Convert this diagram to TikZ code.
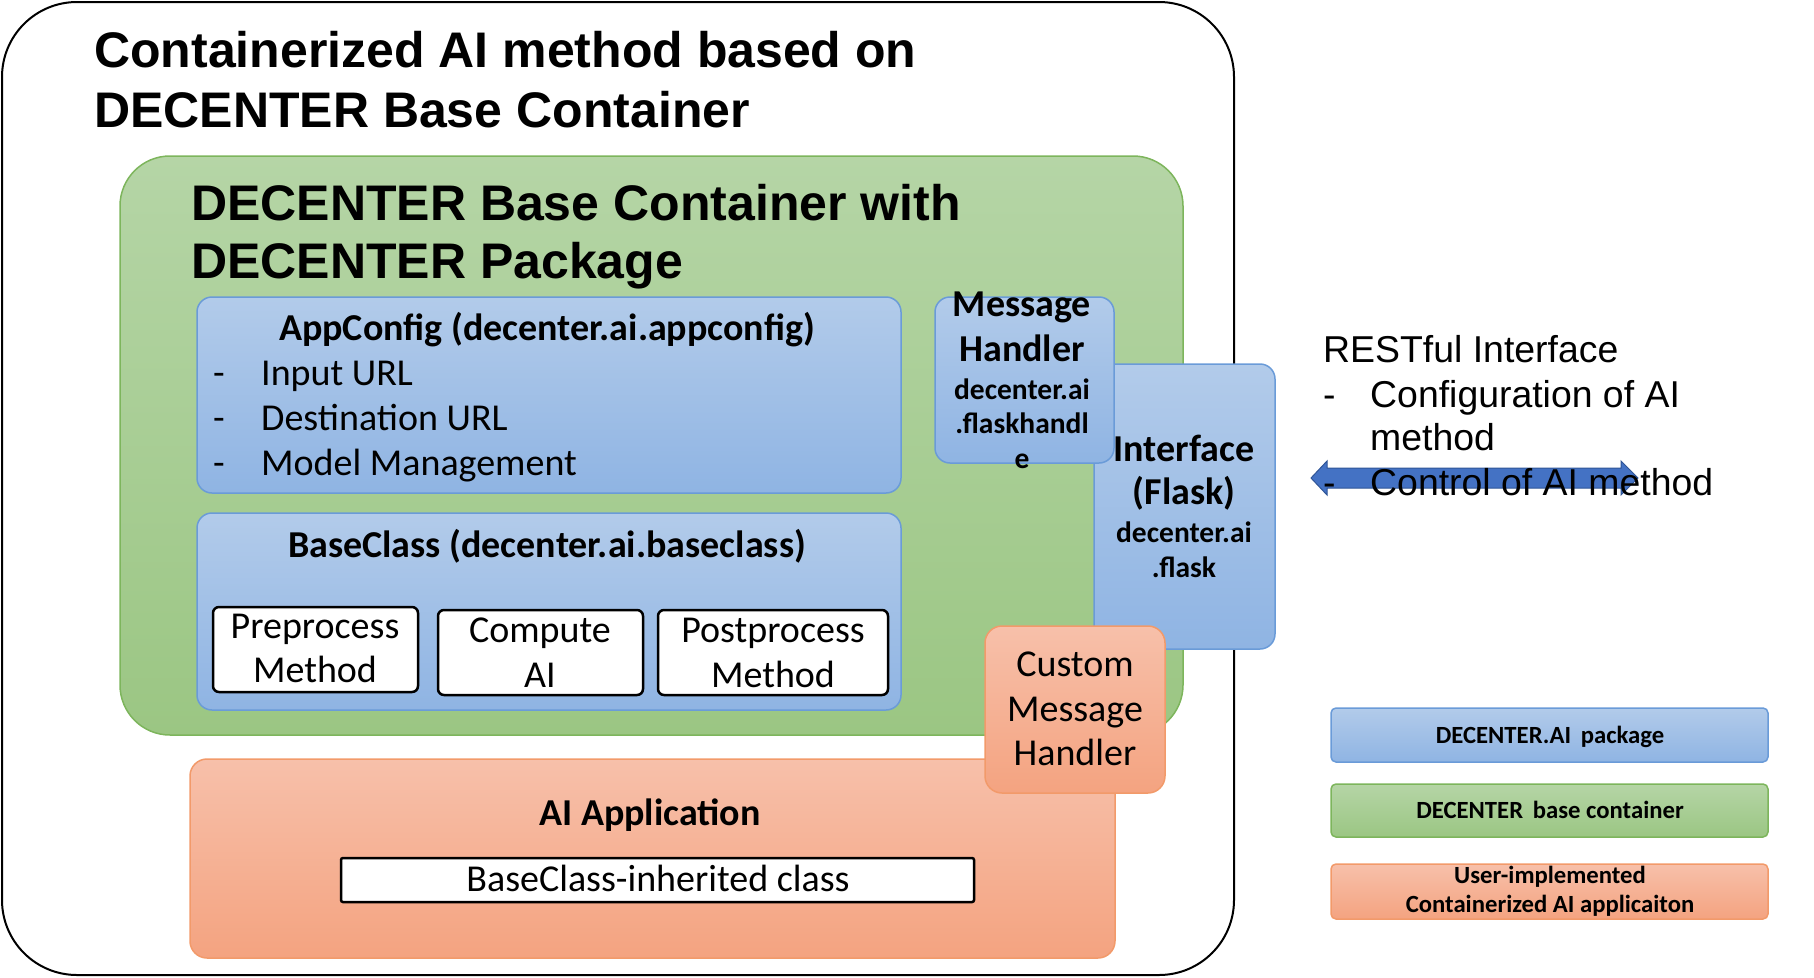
\documentclass[tikz,border=0pt]{standalone}
\usepackage{fontspec}
\setmainfont{Liberation Sans}
\newfontfamily\calib{Carlito}
\definecolor{bluetop}{HTML}{B2CBEA}
\definecolor{bluebot}{HTML}{8FB4E3}
\definecolor{blueline}{HTML}{6A9BD8}
\definecolor{greentop}{HTML}{B5D5A6}
\definecolor{greenbot}{HTML}{9BC683}
\definecolor{greenline}{HTML}{7DB55C}
\definecolor{orangetop}{HTML}{F7C0AA}
\definecolor{orangebot}{HTML}{F4A380}
\definecolor{orangeline}{HTML}{F29A6A}
\definecolor{arrowfill}{HTML}{4472C4}
\definecolor{arrowline}{HTML}{2F5597}
\tikzset{
  box/.style={inner sep=0pt, outer sep=0pt, anchor=north west},
  outerbox/.style={box, draw=black, line width=2pt, rounded corners=75pt},
  greenbox/.style={box, draw=greenline, line width=1.5pt, top color=greentop, bottom color=greenbot, rounded corners=50pt},
  bluebox/.style={box, draw=blueline, line width=1.5pt, top color=bluetop, bottom color=bluebot, rounded corners=15pt},
  orangebox/.style={box, draw=orangeline, line width=1.5pt, top color=orangetop, bottom color=orangebot, rounded corners=17pt},
  whitebox/.style={box, draw=black, fill=white, line width=2.5pt, rounded corners=6pt},
  legbox/.style={box, line width=1.5pt, rounded corners=5pt, minimum width=437pt},
  ttl/.style={inner sep=0pt, anchor=base west, font=\bfseries\fontsize{50}{60}\selectfont},
  creg/.style={inner sep=0pt, anchor=base, font=\calib\fontsize{38}{44}\selectfont},
  cbold/.style={inner sep=0pt, anchor=base, font=\calib\bfseries\fontsize{38}{44}\selectfont},
  csmall/.style={inner sep=0pt, anchor=base, font=\calib\bfseries\fontsize{29.5}{34}\selectfont},
  cleg/.style={inner sep=0pt, anchor=base, font=\calib\bfseries\fontsize{24.7}{30}\selectfont},
  areg/.style={inner sep=0pt, anchor=base west, font=\fontsize{37.4}{44}\selectfont},
}
\begin{document}
\begin{tikzpicture}[x=1pt,y=-1pt]
\useasboundingbox (0,0) rectangle (1814,977);
% outer container
\node[outerbox, minimum width=1232pt, minimum height=973pt] (outer) at (2,2) {};
\node[ttl] (title1) at (94,67) {Containerized AI method based on};
\node[ttl] (title2) at (94,127) {DECENTER Base Container};
% green base container
\node[greenbox, minimum width=1063pt, minimum height=579pt] (green) at (120,156) {};
\node[ttl] (gtitle1) at (191,220) {DECENTER Base Container with};
\node[ttl] (gtitle2) at (191,278) {DECENTER Package};
% AppConfig
\node[bluebox, minimum width=704pt, minimum height=196pt] (appcfg) at (197,297) {};
\node[cbold] (appcfgt) at (547,340) {AppConfig (decenter.ai.appconfig)};
\node[creg] (d1) at (219,385) {-};
\node[creg, anchor=base west] (i1) at (261,385) {Input URL};
\node[creg] (d2) at (219,430) {-};
\node[creg, anchor=base west] (i2) at (261,430) {Destination URL};
\node[creg] (d3) at (219,475) {-};
\node[creg, anchor=base west] (i3) at (261,475) {Model Management};
% BaseClass
\node[bluebox, minimum width=704pt, minimum height=197pt] (basecls) at (197,513) {};
\node[cbold] (basecl t) at (547,557) {BaseClass (decenter.ai.baseclass)};
\node[whitebox, minimum width=205pt, minimum height=85pt] (pre) at (213,607) {};
\node[creg] (pre1) at (315,638) {Preprocess};
\node[creg] (pre2) at (315,682) {Method};
\node[whitebox, minimum width=205pt, minimum height=85pt] (comp) at (438,610) {};
\node[creg] (comp1) at (540,642) {Compute};
\node[creg] (comp2) at (540,687) {AI};
\node[whitebox, minimum width=230pt, minimum height=85pt] (post) at (658,610) {};
\node[creg] (post1) at (773,642) {Postprocess};
\node[creg] (post2) at (773,687) {Method};
% Interface (Flask)
\node[bluebox, minimum width=181pt, minimum height=285pt] (iface) at (1094,364) {};
% Message handler
\node[bluebox, minimum width=179pt, minimum height=166pt] (msgh) at (935,297) {};
\node[cbold] (msgh1) at (1022,316) {Message};
\node[cbold] (msgh2) at (1022,361) {Handler};
\node[csmall] (msgh3) at (1022,399) {decenter.ai};
\node[csmall] (msgh4) at (1022,433) {.flaskhandl};
\node[csmall] (msgh5) at (1022,468) {e};
\node[cbold] (if1) at (1184,461) {Interface};
\node[cbold] (if2) at (1184,504) {(Flask)};
\node[csmall] (if3) at (1184,542) {decenter.ai};
\node[csmall] (if4) at (1184,577) {.flask};
% AI application
\node[orangebox, minimum width=925pt, minimum height=199pt] (aiapp) at (190,759) {};
\node[cbold] (aiappt) at (650,825) {AI Application};
\node[box, draw=black, fill=white, line width=2.5pt, rounded corners=2pt, minimum width=633pt, minimum height=44pt] (bcinh) at (341,858) {};
\node[creg] (bcinht) at (658,891) {BaseClass-inherited class};
% Custom message handler
\node[orangebox, minimum width=180pt, minimum height=167pt] (custom) at (985,626) {};
\node[creg] (cus1) at (1075,676) {Custom};
\node[creg] (cus2) at (1075,721) {Message};
\node[creg] (cus3) at (1075,765) {Handler};
% RESTful double arrow
\coordinate (arrL) at (1311,478);
\coordinate (arrR) at (1638,478);
\filldraw[fill=arrowfill, draw=arrowline, line width=1pt, line join=miter]
  (arrL) -- ++(16,-17) -- ++(0,7) -- (1621,468) -- (1621,461) -- (arrR)
  -- (1621,495) -- (1621,488) -- (1327,488) -- (1327,495) -- cycle;
\node[areg] (rest) at (1323,362) {RESTful Interface};
\node[areg] (rd1) at (1323,407) {-};
\node[areg] (r1) at (1370,407) {Configuration of AI};
\node[areg] (r2) at (1370,450) {method};
\node[areg] (rd2) at (1323,495) {-};
\node[areg] (r3) at (1370,495) {Control of AI method};
% legend
\node[legbox, draw=blueline, top color=bluetop, bottom color=bluebot, minimum height=54pt] (legb) at (1331,708) {};
\node[cleg] (legbt) at (1550,743) {DECENTER.AI\, package};
\node[legbox, draw=greenline, top color=greentop, bottom color=greenbot, minimum height=53pt] (legg) at (1331,784) {};
\node[cleg] (leggt) at (1550,818) {DECENTER\, base container};
\node[legbox, draw=orangeline, top color=orangetop, bottom color=orangebot, minimum height=55pt] (lego) at (1331,864) {};
\node[cleg] (legot1) at (1550,883) {User-implemented};
\node[cleg] (legot2) at (1550,912) {Containerized AI applicaiton};
\end{tikzpicture}
\end{document}
